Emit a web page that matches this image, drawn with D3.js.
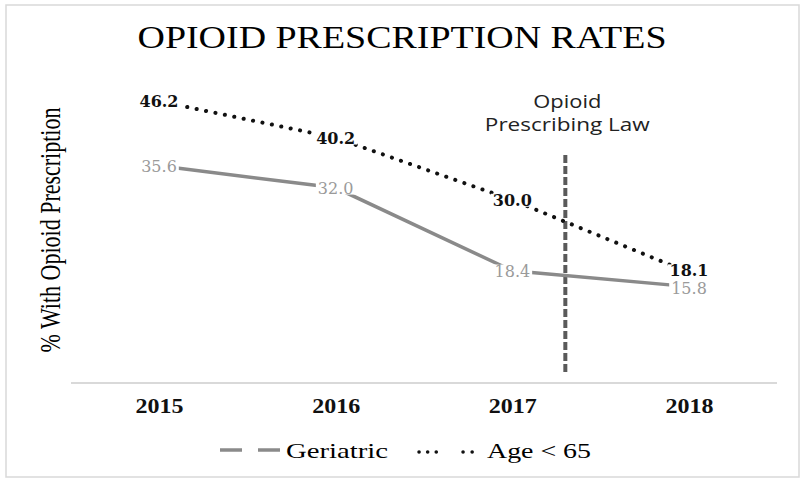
<html>
  <head>
    <meta charset="utf-8">
    <title>Opioid Prescription Rates</title>
    <style>
    body{
      margin: 0;
      background-color: white;
    }
    </style>
    <script src="https://d3js.org/d3.v7.min.js"></script>
  </head>
  <body>
    <div id="container"></div>
    <script>
    //size of the picture
    const width = 806,
          height = 483;

    //chart data
    var years = [2015, 2016, 2017, 2018];
    var geriatric = [35.6, 32.0, 18.4, 15.8];
    var under65 = [46.2, 40.2, 30.0, 18.1];
    var lawYear = 2017.3;
    var seriesNames = ["Geriatric", "Age < 65"];

    var svg = d3.select("#container")
      .append("svg")
      .attr("width", width)
      .attr("height", height)
      .style("display", "block");

    //outer frame
    svg.append("rect")
      .attr("x", 6).attr("y", 5)
      .attr("width", 793).attr("height", 472)
      .attr("fill", "white")
      .attr("stroke", "#d9d9d9")
      .attr("stroke-width", 1.5);

    //scales: years spread evenly across the plot, values from 0 to 50
    var x = d3.scaleLinear()
      .domain([2015, 2018])
      .range([159, 689]);
    var y = d3.scaleLinear()
      .domain([0, 50])
      .range([383, 78]);

    //title
    svg.append("text")
      .attr("x", 402).attr("y", 48)
      .attr("text-anchor", "middle")
      .attr("font-family", "Liberation Serif, serif")
      .attr("font-size", 32)
      .attr("textLength", 529)
      .attr("lengthAdjust", "spacingAndGlyphs")
      .text("OPIOID PRESCRIPTION RATES");

    //y axis title (stretched a little like the picture)
    svg.append("text")
      .attr("transform", "translate(60,230) scale(1.3,1) rotate(-90)")
      .attr("text-anchor", "middle")
      .attr("font-family", "Liberation Serif, serif")
      .attr("font-size", 22)
      .text("% With Opioid Prescription");

    //x axis, only the line and the year labels
    var xAxis = svg.append("g")
      .attr("transform", "translate(0,383)")
      .call(d3.axisBottom(x).tickValues(years).tickFormat(d3.format("d")).tickSize(0).tickPadding(14));
    xAxis.select(".domain")
      .attr("d", "M71,0H777")
      .attr("stroke", "#d9d9d9")
      .attr("stroke-width", 2);
    xAxis.selectAll("text")
      .attr("font-family", "Liberation Serif, serif")
      .attr("font-weight", "bold")
      .attr("font-size", 22)
      .attr("textLength", 48)
      .attr("lengthAdjust", "spacingAndGlyphs")
      .attr("fill", "#111");

    //law marker
    svg.append("line")
      .attr("x1", x(lawYear)).attr("x2", x(lawYear))
      .attr("y1", 155).attr("y2", 372)
      .attr("stroke", "#5a5a5a")
      .attr("stroke-width", 4)
      .attr("stroke-dasharray", "8,3");

    var lawText = svg.append("text")
      .attr("text-anchor", "middle")
      .attr("font-family", "Open Sans, sans-serif")
      .attr("font-size", 18)
      .attr("fill", "#222");
    lawText.append("tspan").attr("x", x(lawYear) + 2).attr("y", 108)
      .attr("textLength", 68).attr("lengthAdjust", "spacingAndGlyphs")
      .text("Opioid");
    lawText.append("tspan").attr("x", x(lawYear) + 2).attr("y", 131)
      .attr("textLength", 165).attr("lengthAdjust", "spacingAndGlyphs")
      .text("Prescribing Law");

    //series lines
    var line = d3.line()
      .x(function(d, i) { return x(years[i]); })
      .y(function(d) { return y(d); });

    svg.append("path")
      .datum(geriatric)
      .attr("d", line)
      .attr("fill", "none")
      .attr("stroke", "#8a8a8a")
      .attr("stroke-width", 3.5);

    svg.append("path")
      .datum(under65)
      .attr("d", line)
      .attr("fill", "none")
      .attr("stroke", "#111")
      .attr("stroke-width", 4)
      .attr("stroke-linecap", "round")
      .attr("stroke-dasharray", "0.1,9.5");

    //when the two labels of a year sit too close, push them apart a bit
    var minGap = 18;
    function nudge(i, sign) {
      var gap = Math.abs(y(geriatric[i]) - y(under65[i]));
      return gap < minGap ? sign * (minGap - gap) / 2 : 0;
    }

    //data labels with white boxes behind them, centred on the points
    function addLabels(values, color, weight, sign) {
      var g = svg.append("g");
      var labels = g.selectAll("g")
        .data(values)
        .enter()
        .append("g")
        .attr("transform", function(d, i) { return "translate(" + x(years[i]) + "," + (y(d) + nudge(i, sign)) + ")"; });
      labels.append("rect").attr("fill", "white");
      labels.append("text")
        .attr("text-anchor", "middle")
        .attr("dy", "0.36em")
        .attr("font-family", "DejaVu Serif, serif")
        .attr("font-size", 16)
        .attr("font-weight", weight)
        .attr("fill", color)
        .text(function(d) { return d3.format(".1f")(d); });
      labels.each(function() {
        var b = d3.select(this).select("text").node().getBBox();
        d3.select(this).select("rect")
          .attr("x", b.x - 2).attr("y", b.y + 3)
          .attr("width", b.width + 4).attr("height", b.height - 6);
      });
    }
    addLabels(geriatric, "#9a9a9a", "normal", 1);
    addLabels(under65, "#111", "bold", -1);

    //legend
    var legend = svg.append("g");
    legend.append("line")
      .attr("x1", 220).attr("x2", 283).attr("y1", 450).attr("y2", 450)
      .attr("stroke", "#8a8a8a").attr("stroke-width", 3.5)
      .attr("stroke-dasharray", "22,16");
    legend.append("text")
      .attr("x", 286).attr("y", 458)
      .attr("font-family", "Liberation Serif, serif")
      .attr("font-size", 22)
      .attr("textLength", 102).attr("lengthAdjust", "spacingAndGlyphs")
      .text(seriesNames[0]);
    legend.append("line")
      .attr("x1", 419).attr("x2", 438).attr("y1", 452).attr("y2", 452)
      .attr("stroke", "#111").attr("stroke-width", 3.5)
      .attr("stroke-linecap", "round").attr("stroke-dasharray", "0.1,8.5");
    legend.append("line")
      .attr("x1", 463).attr("x2", 473).attr("y1", 452).attr("y2", 452)
      .attr("stroke", "#111").attr("stroke-width", 3.5)
      .attr("stroke-linecap", "round").attr("stroke-dasharray", "0.1,9");
    legend.append("text")
      .attr("x", 487).attr("y", 458)
      .attr("font-family", "Liberation Serif, serif")
      .attr("font-size", 22)
      .attr("textLength", 104).attr("lengthAdjust", "spacingAndGlyphs")
      .text(seriesNames[1]);
    </script>
  </body>
</html>
